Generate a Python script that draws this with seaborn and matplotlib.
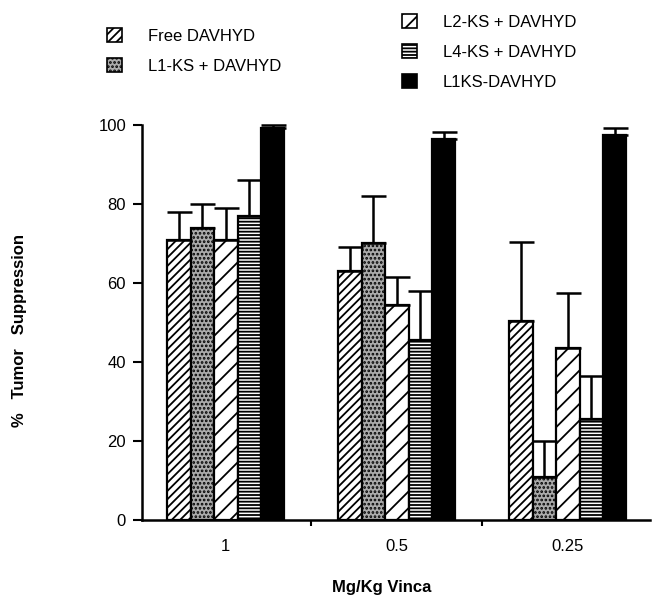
import numpy as np
import pandas as pd
import matplotlib
matplotlib.use("Agg")
import matplotlib.pyplot as plt
import seaborn as sns
from matplotlib.patches import Patch

doses = ["1", "0.5", "0.25"]
groups = ["Free DAVHYD", "L1-KS + DAVHYD", "L2-KS + DAVHYD", "L4-KS + DAVHYD", "L1KS-DAVHYD"]
free_vals = [71, 63, 50.5]
l1_vals = [74, 70, 11]
l2_vals = [71, 54.5, 43.5]
l4_vals = [77, 45.5, 25.5]
l1ks_vals = [99.2, 96.5, 97.5]
free_err = [7, 6, 20]
l1_err = [6, 12, 9]
l2_err = [8, 7, 14]
l4_err = [9, 12.5, 11]
l1ks_err = [0.8, 1.8, 1.7]

vals = [free_vals, l1_vals, l2_vals, l4_vals, l1ks_vals]
errs = [free_err, l1_err, l2_err, l4_err, l1ks_err]

rows = []
for g, v in zip(groups, vals):
    for d, y in zip(doses, v):
        rows.append({"dose": d, "group": g, "value": y})
df = pd.DataFrame(rows)

sns.set_style("white")
plt.rcParams["font.family"] = ["Liberation Sans", "DejaVu Sans"]
plt.rcParams["hatch.linewidth"] = 1.3
plt.rcParams["text.color"] = "black"
plt.rcParams["axes.labelcolor"] = "black"
plt.rcParams["xtick.color"] = "black"
plt.rcParams["ytick.color"] = "black"

fig = plt.figure(figsize=(6.54, 5.99), dpi=100)
ax = fig.add_axes([142/654, 1-520/599, (650-142)/654, (520-125)/599])

palette = {"Free DAVHYD": "white", "L1-KS + DAVHYD": "#ababab",
           "L2-KS + DAVHYD": "white", "L4-KS + DAVHYD": "white",
           "L1KS-DAVHYD": "black"}
hatches = ["////", "....", "//", "-----", ""]

sns.barplot(data=df, x="dose", y="value", hue="group", order=doses, hue_order=groups,
            palette=palette, saturation=1, width=0.685, errorbar=None,
            edgecolor="black", linewidth=1.6, legend=False, ax=ax)

bar_containers = list(ax.containers)
for cont, h, e in zip(bar_containers, hatches, errs):
    xs = []
    tops = []
    for p in cont.patches:
        p.set_hatch(h)
        p.set_edgecolor("black")
        xs.append(p.get_x() + p.get_width() / 2)
        tops.append(p.get_height())
    ax.errorbar(xs, tops, yerr=[np.zeros(len(e)), e], fmt="none", ecolor="black",
                elinewidth=1.8, capsize=9, capthick=1.8, clip_on=False, zorder=1)

ax.set_ylim(0, 100)
ax.set_xlim(-0.49, 2.48)
ax.set_yticks([0, 20, 40, 60, 80, 100])
ax.set_xticks([0, 1, 2])
ax.set_xticklabels(doses, fontsize=12)
ax.set_xticks([0.5, 1.5], minor=True)
ax.tick_params(axis="x", which="major", length=0, pad=13.5, labelcolor="black")
ax.tick_params(axis="x", which="minor", length=4, width=1.5, direction="out", bottom=True, color="black")
ax.tick_params(axis="y", length=6.5, width=1.5, direction="out", left=True, labelsize=12, pad=5,
               color="black", labelcolor="black")
for s in ["top", "right"]:
    ax.spines[s].set_visible(False)
for s in ["left", "bottom"]:
    ax.spines[s].set_linewidth(1.8)
    ax.spines[s].set_color("black")

ax.set_xlabel("Mg/Kg Vinca", fontsize=12, fontweight="bold", color="black")
ax.xaxis.set_label_coords(0.472, -0.153)
ax.set_ylabel("%   Tumor   Suppression", fontsize=12, fontweight="bold", color="black")
ax.yaxis.set_label_coords(-0.226, 0.48)

lh = [Patch(facecolor=palette[g], edgecolor="black", hatch=h, linewidth=1.2) for g, h in zip(groups, hatches)]

common = dict(frameon=False, fontsize=12, handlelength=0.9, handleheight=0.9,
              handletextpad=1.55, labelspacing=0.86, borderpad=0, borderaxespad=0,
              labelcolor="black")
fig.legend(lh[:2], groups[:2], loc="upper left", bbox_to_anchor=(107/654, 1-28/599), **common)
fig.legend(lh[2:], groups[2:], loc="upper left", bbox_to_anchor=(402/654, 1-14/599), **common)

fig.savefig("out.png", dpi=100)
